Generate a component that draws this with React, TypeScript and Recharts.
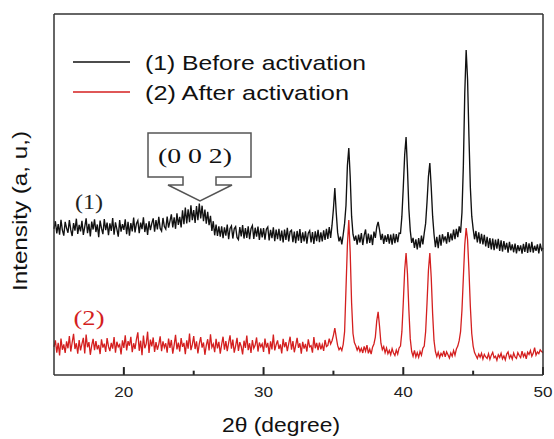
import { LineChart, Line, XAxis, YAxis, ReferenceLine } from "recharts";

// 2θ grid, 15° to 50° every 0.1°
const THETA_START = 15;
const THETA_STEP = 0.1;

// (1) Before activation, one row per degree (n.0 ... n.9)
const beforeActivation = [
  40.5, 42.6, 39.2, 41.8, 38.9, 43.0, 40.1, 38.6, 42.4, 40.7, // 15
  39.4, 42.9, 40.2, 38.5, 42.1, 40.0, 43.3, 39.1, 41.6, 39.8, // 16
  42.7, 38.8, 41.0, 43.4, 39.3, 41.9, 38.4, 42.5, 40.3, 43.1, // 17
  39.6, 41.7, 38.2, 42.8, 40.6, 39.0, 43.2, 40.1, 42.2, 38.7, // 18
  42.0, 39.9, 43.5, 38.9, 42.3, 40.4, 38.3, 42.9, 39.7, 41.8, // 19
  40.2, 43.1, 39.0, 42.4, 38.6, 42.1, 39.8, 43.6, 39.5, 41.9, // 20
  42.8, 39.3, 42.2, 40.4, 43.7, 39.6, 42.0, 38.8, 42.6, 40.1, // 21
  42.0, 43.4, 39.7, 42.9, 40.3, 43.8, 40.6, 39.9, 43.5, 41.1, // 22
  40.4, 43.9, 40.8, 42.6, 44.5, 40.9, 43.7, 40.5, 44.8, 41.6, // 23
  43.8, 40.9, 45.6, 41.8, 46.4, 42.0, 45.9, 42.3, 47.0, 42.9, // 24
  45.7, 42.1, 46.8, 42.9, 47.5, 43.4, 46.9, 42.6, 45.8, 41.9, // 25
  45.2, 41.5, 44.1, 39.9, 42.6, 38.7, 41.7, 38.5, 41.2, 38.3, // 26
  41.2, 37.9, 40.9, 38.6, 41.7, 37.6, 40.6, 41.3, 37.8, 40.5, // 27
  41.1, 38.1, 37.5, 41.0, 38.4, 41.5, 37.8, 40.7, 38.0, 41.2, // 28
  37.6, 40.5, 41.4, 37.7, 40.8, 38.3, 41.1, 37.4, 40.6, 38.1, // 29
  40.7, 37.5, 40.4, 41.0, 37.3, 40.2, 37.9, 40.9, 37.1, 40.3, // 30
  37.6, 40.5, 37.2, 40.0, 36.7, 40.3, 37.4, 40.8, 37.0, 39.7, // 31
  40.1, 36.8, 39.7, 36.5, 39.9, 37.2, 40.4, 36.6, 39.5, 37.0, // 32
  39.8, 36.4, 39.3, 40.0, 36.7, 39.6, 36.3, 39.8, 37.1, 40.2, // 33
  36.8, 39.5, 37.0, 40.1, 37.4, 40.5, 37.7, 41.0, 38.0, 41.5, // 34
  46.0, 51.8, 45.0, 39.5, 37.0, 38.3, 36.2, 38.9, 42.0, 47.0, // 35
  58.0, 62.9, 55.0, 44.0, 39.0, 37.2, 38.6, 36.1, 38.9, 36.7, // 36
  39.3, 36.0, 38.7, 40.3, 36.4, 39.2, 36.6, 38.9, 36.0, 39.7, // 37
  38.0, 41.0, 42.4, 40.2, 37.4, 39.1, 36.3, 38.7, 36.9, 39.0, // 38
  36.4, 38.9, 36.1, 39.2, 36.5, 39.0, 36.8, 39.3, 39.2, 44.0, // 39
  52.0, 61.0, 65.9, 57.0, 46.0, 40.0, 36.6, 38.0, 35.2, 37.6, // 40
  34.8, 37.9, 35.3, 38.6, 36.2, 39.3, 42.0, 48.0, 55.0, 58.7, // 41
  52.0, 44.0, 39.0, 35.4, 38.3, 35.1, 38.8, 35.8, 39.0, 37.2, // 42
  38.4, 36.4, 39.6, 36.8, 39.2, 37.3, 40.3, 37.6, 40.5, 38.2, // 43
  41.2, 39.4, 45.0, 58.0, 78.0, 90.0, 82.0, 66.0, 52.0, 44.0, // 44
  40.5, 37.6, 39.9, 36.7, 39.5, 36.4, 39.1, 36.2, 38.8, 35.6, // 45
  38.3, 35.2, 37.9, 34.8, 37.8, 34.6, 37.5, 35.0, 37.7, 34.4, // 46
  37.3, 34.2, 37.1, 34.7, 36.6, 33.9, 36.9, 34.5, 36.2, 34.0, // 47
  36.4, 33.7, 36.0, 34.3, 35.9, 33.6, 36.3, 34.1, 36.8, 33.8, // 48
  36.5, 34.0, 36.9, 33.9, 35.8, 34.4, 36.2, 33.7, 36.4, 34.6, // 49
  35.2, // 50
];

// (2) After activation
const afterActivation = [
  7.8, 9.6, 6.2, 8.9, 5.4, 10.1, 7.0, 8.5, 6.1, 9.3, // 15
  7.4, 10.8, 6.5, 9.0, 11.4, 7.2, 8.8, 5.9, 9.7, 6.8, // 16
  8.6, 10.3, 6.0, 11.2, 7.7, 9.1, 5.6, 8.2, 10.0, 6.9, // 17
  9.4, 7.1, 8.3, 5.8, 9.9, 7.6, 8.7, 6.4, 10.2, 7.9, // 18
  6.6, 8.9, 7.3, 10.5, 6.2, 9.2, 7.8, 8.4, 5.7, 9.6, // 19
  7.5, 11.0, 6.8, 9.4, 8.1, 10.6, 6.3, 8.8, 7.2, 9.9, // 20
  11.8, 6.7, 9.5, 5.5, 10.9, 7.4, 8.6, 12.0, 6.1, 9.8, // 21
  7.9, 10.4, 6.4, 9.1, 7.0, 8.5, 10.7, 6.6, 9.3, 7.6, // 22
  8.8, 6.2, 10.1, 7.5, 9.7, 5.9, 8.3, 11.1, 7.1, 9.0, // 23
  6.5, 10.2, 7.8, 8.9, 5.8, 9.6, 7.3, 11.5, 6.9, 8.4, // 24
  10.8, 7.2, 9.3, 6.0, 8.7, 10.5, 7.6, 9.0, 5.6, 8.2, // 25
  9.9, 6.8, 11.3, 7.7, 8.6, 6.3, 10.0, 7.4, 9.2, 5.9, // 26
  8.5, 10.6, 7.0, 9.4, 6.6, 8.9, 11.0, 7.3, 9.8, 6.2, // 27
  8.1, 10.3, 6.7, 9.1, 7.9, 5.7, 9.5, 7.5, 10.9, 6.9, // 28
  8.8, 6.1, 9.7, 7.4, 8.3, 10.4, 6.5, 9.0, 7.8, 8.6, // 29
  6.4, 10.1, 7.6, 8.9, 5.8, 9.3, 7.1, 11.2, 6.8, 8.4, // 30
  9.6, 7.2, 8.5, 6.0, 10.0, 7.7, 9.1, 6.6, 8.7, 10.6, // 31
  7.0, 9.4, 6.3, 8.2, 10.3, 7.5, 8.8, 5.9, 9.2, 7.3, // 32
  8.6, 6.5, 9.9, 7.8, 8.1, 6.2, 10.5, 7.4, 8.9, 6.9, // 33
  9.0, 7.1, 8.4, 6.7, 9.7, 7.9, 8.2, 10.1, 8.6, 9.5, // 34
  11.0, 13.0, 10.5, 8.2, 7.0, 7.6, 6.8, 8.5, 12.0, 24.0, // 35
  36.0, 42.9, 34.0, 20.0, 11.5, 9.0, 8.1, 6.9, 7.8, 6.5, // 36
  7.4, 6.1, 7.9, 6.6, 8.3, 6.0, 7.2, 5.8, 7.7, 8.6, // 37
  10.5, 15.0, 17.5, 13.5, 8.8, 7.0, 7.9, 6.2, 7.5, 5.9, // 38
  6.8, 5.6, 7.3, 6.1, 5.4, 6.9, 5.8, 7.5, 8.0, 12.0, // 39
  20.0, 29.0, 33.8, 28.0, 18.0, 10.0, 6.5, 5.2, 6.8, 5.0, // 40
  6.2, 4.9, 6.5, 5.5, 7.4, 8.0, 12.0, 20.0, 29.0, 33.8, // 41
  27.0, 17.0, 9.5, 6.5, 5.1, 6.3, 4.8, 6.0, 5.3, 6.7, // 42
  5.0, 6.4, 5.6, 4.7, 6.1, 5.2, 6.8, 5.5, 7.2, 8.0, // 43
  9.5, 12.0, 18.0, 27.0, 36.0, 40.7, 37.5, 29.0, 19.0, 11.5, // 44
  8.0, 6.2, 5.4, 4.6, 5.8, 4.9, 6.0, 4.4, 5.7, 5.0, // 45
  4.6, 5.9, 4.3, 5.5, 6.3, 4.8, 5.2, 4.1, 5.6, 4.9, // 46
  6.0, 4.5, 5.3, 4.2, 5.8, 6.4, 4.7, 5.5, 4.4, 6.1, // 47
  5.0, 4.6, 6.2, 5.4, 4.8, 6.6, 5.1, 5.9, 4.5, 6.3, // 48
  5.7, 6.8, 5.2, 6.0, 7.6, 5.5, 6.4, 5.9, 7.0, 6.5, // 49
  6.2, // 50
];

const majorTicks = [20, 30, 40, 50];
const minorTicks = [25, 35, 45];
const seriesNames = ["(1) Before activation", "(2) After activation"];

const data = beforeActivation.map((v, i) => ({
  theta: +(THETA_START + i * THETA_STEP).toFixed(1),
  before: v,
  after: afterActivation[i],
}));

const AXIS_COLOR = "#222";
const BLACK = "#111";
const RED = "#d41f1f";
const SANS = '"Liberation Sans", Arial, sans-serif';
const SERIF = '"Liberation Serif", "Times New Roman", serif';

// tick mark lengths in y-axis units (domain 0-100 over ~362px)
const MAJOR_TICK_LEN = 2.2;
const MINOR_TICK_LEN = 1.2;

function XTickLabel(props: any) {
  const { x, payload } = props;
  return (
    <text x={x} y={397} textAnchor="middle" fontSize={15} textLength={19} lengthAdjust="spacingAndGlyphs" fontFamily={SANS} fill="#222">
      {payload.value}
    </text>
  );
}

const frameLine = { stroke: "#333", strokeWidth: 1.5 };

export default function App() {
  return (
    <div style={{ position: "absolute", left: 0, top: 0, width: 554, height: 439, background: "#fff" }}>
      <LineChart width={554} height={439} data={data} margin={{ top: 13, right: 10, bottom: 63, left: 53 }}>
        <XAxis
          dataKey="theta"
          type="number"
          domain={[15, 50]}
          ticks={majorTicks}
          tick={<XTickLabel />}
          tickLine={false}
          height={1}
          axisLine={frameLine}
        />
        <XAxis xAxisId="top" orientation="top" dataKey="theta" type="number" domain={[15, 50]} tick={false} tickLine={false} height={1} axisLine={frameLine} />
        <YAxis type="number" domain={[0, 100]} allowDataOverflow tick={false} tickLine={false} width={1} axisLine={frameLine} />
        <YAxis yAxisId="right" orientation="right" domain={[0, 100]} tick={false} tickLine={false} width={1} axisLine={frameLine} />
        <Line dataKey="before" type="linear" stroke={BLACK} strokeWidth={1.35} dot={false} isAnimationActive={false} />
        <Line dataKey="after" type="linear" stroke={RED} strokeWidth={1.3} dot={false} isAnimationActive={false} />
        {majorTicks.map((t) => (
          <ReferenceLine key={`M${t}`} segment={[{ x: t, y: 0 }, { x: t, y: MAJOR_TICK_LEN }]} stroke={AXIS_COLOR} strokeWidth={2} ifOverflow="visible" />
        ))}
        {minorTicks.map((t) => (
          <ReferenceLine key={`m${t}`} segment={[{ x: t, y: 0 }, { x: t, y: MINOR_TICK_LEN }]} stroke={AXIS_COLOR} strokeWidth={2} ifOverflow="visible" />
        ))}
      </LineChart>
      <svg width={554} height={439} style={{ position: "absolute", left: 0, top: 0, pointerEvents: "none" }}>
        {/* legend */}
        <line x1={73} x2={130} y1={62} y2={62} stroke={BLACK} strokeWidth={1.5} />
        <line x1={73} x2={130} y1={92} y2={92} stroke={RED} strokeWidth={1.5} />
        <text x={145} y={70} fontSize={21} fontFamily={SANS} fill="#111" textLength={221} lengthAdjust="spacingAndGlyphs">
          {seriesNames[0]}
        </text>
        <text x={145} y={100} fontSize={21} fontFamily={SANS} fill="#111" textLength={204} lengthAdjust="spacingAndGlyphs">
          {seriesNames[1]}
        </text>

        {/* axis titles */}
        <text x={281} y={432} textAnchor="middle" fontSize={20} fontFamily={SANS} fill="#111" textLength={118} lengthAdjust="spacingAndGlyphs">
          2θ (degree)
        </text>
        <text
          x={20}
          y={211}
          transform="rotate(-90 20 211)"
          textAnchor="middle"
          dominantBaseline="central"
          fontSize={20}
          fontFamily={SANS}
          fill="#111"
          textLength={160}
          lengthAdjust="spacingAndGlyphs"
        >
          Intensity (a, u,)
        </text>

        {/* (0 0 2) callout */}
        <path
          d="M148,133 H251 V177 H216 V185 H232 L200,201 L168,185 H183 V177 H148 Z"
          fill="#fff"
          stroke="#555"
          strokeWidth={1.5}
        />
        <text x={195} y={163} textAnchor="middle" fontSize={21} fontFamily={SERIF} fill="#111" textLength={74} lengthAdjust="spacingAndGlyphs">
          (0 0 2)
        </text>
        <text x={89} y={209} textAnchor="middle" fontSize={21} fontFamily={SERIF} fill="#222" textLength={28} lengthAdjust="spacingAndGlyphs">
          (1)
        </text>
        <text x={89} y={325} textAnchor="middle" fontSize={22} fontFamily={SERIF} fill={RED} textLength={31} lengthAdjust="spacingAndGlyphs">
          (2)
        </text>
      </svg>
    </div>
  );
}
